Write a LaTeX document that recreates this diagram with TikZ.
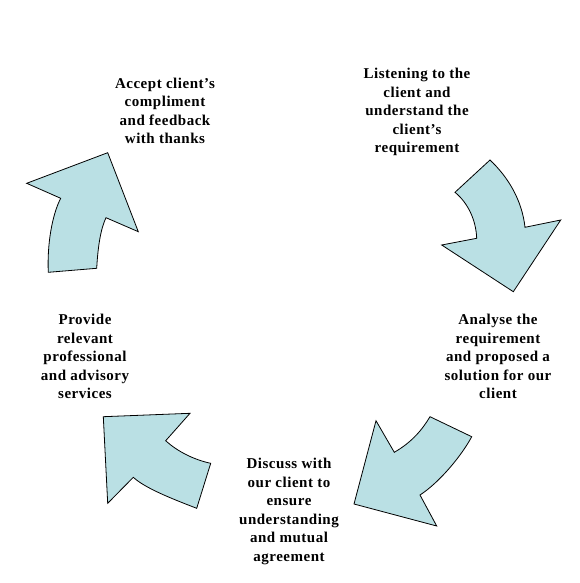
\documentclass[tikz,border=0pt]{standalone}
\usepackage{fontspec}
\setmainfont{Liberation Serif}
\definecolor{arrowfill}{RGB}{186,224,228}
\tikzset{
  cyclearrow/.style={draw=black, line width=0.8pt, fill=arrowfill, line join=miter},
  steptext/.style={align=center, font=\bfseries\fontsize{15}{18.5}\selectfont\addfontfeatures{LetterSpace=3.5}, inner sep=0pt, anchor=north}
}
\begin{document}
\begin{tikzpicture}[x=1pt,y=-1pt]
\useasboundingbox (0,0) rectangle (580,583);
% arrows
\draw[cyclearrow] (48.3,272.3) .. controls (47,245) and (52,215) .. (60.7,198.3)
  -- (26.7,183.3) -- (107.7,152.7) -- (138.3,231.7) -- (106,217.7)
  .. controls (101,228) and (98,245) .. (96.7,268.3) -- cycle;
\draw[cyclearrow] (490,160) .. controls (508,177) and (522,200) .. (525,227.3)
  -- (560.7,220) -- (513.3,291.7) -- (441.7,245) -- (476.7,238.3)
  .. controls (476,220) and (468,203) .. (455,192.3) -- cycle;
\draw[cyclearrow] (430,416.7) -- (471.7,436.7)
  .. controls (462,455) and (440,482) .. (420,495)
  -- (436.7,526) -- (354,504) -- (376,420.7) -- (394.3,452.3)
  .. controls (412,442) and (422,430) .. (430,416.7) -- cycle;
\draw[cyclearrow] (103.3,416.7) -- (190,413.3) -- (165.7,440.7)
  .. controls (178,452) and (195,460) .. (210.7,463.3)
  -- (196.7,508.3) .. controls (170,498) and (145,488) .. (133.3,477.3)
  -- (107.7,503.3) -- cycle;
% texts
\node[steptext] (accept) at (165,77.5) {Accept client’s\\compliment\\and feedback\\with thanks};
\node[steptext] (listen) at (417,68) {Listening to the\\client and\\understand the\\client’s\\requirement};
\node[steptext] (analyse) at (498,314) {Analyse the\\requirement\\and proposed a\\solution for our\\client};
\node[steptext] (discuss) at (289,458) {Discuss with\\our client to\\ensure\\understanding\\and mutual\\agreement};
\node[steptext] (provide) at (85,314) {Provide\\relevant\\professional\\and advisory\\services};
\end{tikzpicture}
\end{document}
